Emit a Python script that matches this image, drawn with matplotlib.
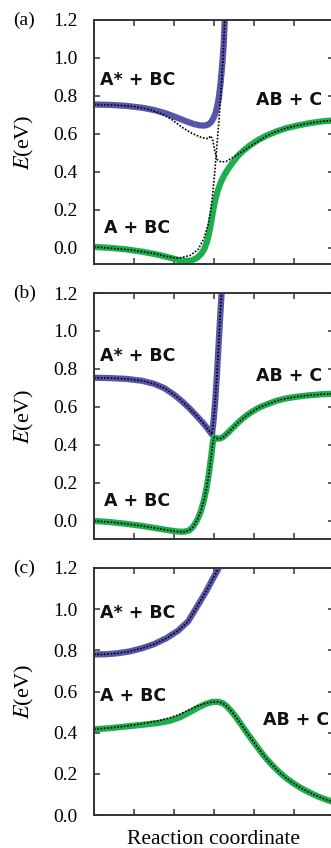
import matplotlib
matplotlib.use("Agg")
import matplotlib.pyplot as plt

plt.rcParams['mathtext.fontset'] = 'stix'
serif = 'Liberation Serif'

blue = '#5856aa'
green = '#1eae4e'

# panel (a)
blue_a_x = [0, 0.4, 0.8, 1.2, 1.5, 1.8, 2.05, 2.3, 2.5, 2.65, 2.77, 2.86, 2.93, 2.99, 3.04,
            3.08, 3.12, 3.16, 3.2, 3.24, 3.27]
blue_a_y = [0.755, 0.753, 0.748, 0.738, 0.726, 0.708, 0.688, 0.667, 0.652, 0.645, 0.644, 0.65,
            0.663, 0.685, 0.712, 0.745, 0.79, 0.86, 0.95, 1.06, 1.2]
green_a_x = [0, 0.4, 0.8, 1.2, 1.6, 1.9, 2.1, 2.3, 2.45, 2.58, 2.68, 2.76, 2.83, 2.89, 2.94,
             2.99, 3.04, 3.1, 3.17, 3.25, 3.35, 3.47, 3.6, 3.75, 3.9, 4.1, 4.3, 4.55, 4.8, 5.1,
             5.4, 5.7, 6.0]
green_a_y = [0.005, 0.0, -0.008, -0.02, -0.036, -0.052, -0.063, -0.069, -0.066, -0.052, -0.032,
             -0.005, 0.035, 0.09, 0.15, 0.21, 0.26, 0.305, 0.345, 0.38, 0.415, 0.45, 0.485,
             0.515, 0.54, 0.568, 0.59, 0.612, 0.63, 0.645, 0.657, 0.666, 0.672]
dot1_a_x = [0, 0.5, 1.0, 1.4, 1.7, 1.95, 2.2, 2.45, 2.7, 2.85, 2.92, 2.97, 3.02, 3.08, 3.18,
            3.3, 3.5, 3.8, 4.1, 4.3, 4.55, 4.8, 5.1, 5.4, 5.7, 6.0]
dot1_a_y = [0.755, 0.752, 0.744, 0.728, 0.705, 0.675, 0.635, 0.603, 0.58, 0.575, 0.59, 0.565,
            0.51, 0.465, 0.452, 0.455, 0.48, 0.52, 0.56, 0.588, 0.612, 0.63, 0.645, 0.657,
            0.666, 0.672]
dot2_a_x = [0, 0.5, 1.0, 1.5, 1.8, 2.1, 2.4, 2.6, 2.75, 2.85, 2.92, 2.97, 3.02, 3.07, 3.12,
            3.17, 3.22, 3.27]
dot2_a_y = [0.005, -0.003, -0.013, -0.03, -0.045, -0.055, -0.04, -0.01, 0.05, 0.12, 0.2, 0.29,
            0.4, 0.53, 0.66, 0.8, 0.98, 1.2]

# panel (b)
blue_b_x = [0, 0.4, 0.8, 1.2, 1.5, 1.75, 2.0, 2.2, 2.4, 2.6, 2.75, 2.88, 2.95, 2.99, 3.03,
            3.07, 3.11, 3.15, 3.19]
blue_b_y = [0.754, 0.752, 0.748, 0.738, 0.722, 0.70, 0.665, 0.63, 0.59, 0.545, 0.51, 0.475,
            0.455, 0.53, 0.63, 0.76, 0.91, 1.06, 1.2]
green_b_x = [0, 0.4, 0.8, 1.2, 1.6, 1.9, 2.1, 2.25, 2.38, 2.48, 2.58, 2.67, 2.75, 2.82, 2.88,
             2.93, 2.97, 3.0, 3.05, 3.1, 3.17, 3.25, 3.35, 3.47, 3.6, 3.75, 3.9, 4.1, 4.3,
             4.55, 4.8, 5.1, 5.4, 5.7, 6.0]
green_b_y = [0.0, -0.006, -0.015, -0.026, -0.04, -0.05, -0.056, -0.057, -0.05, -0.03, 0.005,
             0.05, 0.11, 0.18, 0.26, 0.34, 0.41, 0.44, 0.437, 0.433, 0.435, 0.445, 0.465, 0.49,
             0.517, 0.545, 0.568, 0.594, 0.612, 0.632, 0.645, 0.655, 0.662, 0.667, 0.67]

# panel (c)
blue_c_x = [0, 0.3, 0.6, 0.9, 1.2, 1.5, 1.8, 2.1, 2.35, 2.6, 2.8, 2.95, 3.05, 3.12]
blue_c_y = [0.78, 0.781, 0.786, 0.795, 0.81, 0.83, 0.858, 0.895, 0.94, 1.02, 1.085, 1.14,
            1.175, 1.2]
green_c_x = [0, 0.4, 0.8, 1.2, 1.6, 1.9, 2.15, 2.4, 2.6, 2.8, 2.95, 3.1, 3.22, 3.32, 3.43,
             3.55, 3.68, 3.82, 3.97, 4.12, 4.28, 4.45, 4.62, 4.8, 5.0, 5.2, 5.4, 5.6, 5.8, 6.0]
green_c_y = [0.416, 0.422, 0.43, 0.438, 0.447, 0.458, 0.475, 0.5, 0.522, 0.54, 0.549, 0.55,
             0.543, 0.528, 0.505, 0.475, 0.44, 0.4, 0.36, 0.32, 0.28, 0.243, 0.21, 0.18, 0.152,
             0.128, 0.108, 0.09, 0.075, 0.062]
dotg_c_y = [0.416, 0.423, 0.432, 0.443, 0.457, 0.472, 0.49, 0.513, 0.53, 0.543, 0.549, 0.55,
            0.543, 0.528, 0.505, 0.475, 0.44, 0.4, 0.36, 0.32, 0.28, 0.243, 0.21, 0.18, 0.152,
            0.128, 0.108, 0.09, 0.075, 0.062]

yticks = [0.0, 0.2, 0.4, 0.6, 0.8, 1.0, 1.2]
ytick_labels = ['0.0', '0.2', '0.4', '0.6', '0.8', '1.0', '1.2']

fig = plt.figure(figsize=(3.31, 8.48), dpi=100)

# positions from the picture (px)
boxes = [(20, 264, -0.085), (293, 539, -0.095), (568, 815, 0.0)]
axes = []
for top, bot, ymin in boxes:
    ax = fig.add_axes([94 / 331, 1 - bot / 848, 240 / 331, (bot - top) / 848])
    ax.set_xlim(0, 6)
    ax.set_ylim(ymin, 1.2)
    ax.set_xticks(range(7))
    ax.set_xticklabels([])
    ax.set_yticks(yticks)
    ax.set_yticklabels(ytick_labels, fontfamily=serif, fontsize=14)
    ax.tick_params(direction='in', top=True, right=True, length=4, width=1.1,
                   color='#333333', pad=12)
    for s in ax.spines.values():
        s.set_color('#333333')
        s.set_linewidth(1.4)
    ax.text(-0.29, 0.5, '$E$(eV)', transform=ax.transAxes, rotation=90,
            ha='center', va='center', fontsize=16, fontfamily=serif)
    axes.append(ax)

lw = 4.5
dot = dict(color='black', lw=1.2, ls=(0, (1, 1)))

ax = axes[0]
ax.plot(blue_a_x, blue_a_y, color=blue, lw=lw, solid_capstyle='butt')
ax.plot(green_a_x, green_a_y, color=green, lw=lw, solid_capstyle='butt')
ax.plot(dot1_a_x, dot1_a_y, **dot)
ax.plot(dot2_a_x, dot2_a_y, **dot)

ax = axes[1]
ax.plot(blue_b_x, blue_b_y, color=blue, lw=lw, solid_capstyle='butt')
ax.plot(green_b_x, green_b_y, color=green, lw=lw, solid_capstyle='butt')
ax.plot(blue_b_x, blue_b_y, **dot)
ax.plot(green_b_x, green_b_y, **dot)

ax = axes[2]
ax.plot(blue_c_x, blue_c_y, color=blue, lw=lw, solid_capstyle='butt')
ax.plot(green_c_x, green_c_y, color=green, lw=lw, solid_capstyle='butt')
ax.plot(blue_c_x, blue_c_y, **dot)
ax.plot(green_c_x, dotg_c_y, **dot)

lab = dict(fontsize=12.5, fontweight='bold', ha='left', va='center', color='#111111')
axes[0].text(0.15, 0.884, 'A* + BC', **lab)
axes[0].text(4.05, 0.78, 'AB + C', **lab)
axes[0].text(0.25, 0.105, 'A + BC', **lab)
axes[1].text(0.15, 0.868, 'A* + BC', **lab)
axes[1].text(4.05, 0.762, 'AB + C', **lab)
axes[1].text(0.25, 0.107, 'A + BC', **lab)
axes[2].text(0.15, 0.98, 'A* + BC', **lab)
axes[2].text(0.15, 0.578, 'A + BC', **lab)
axes[2].text(4.23, 0.46, 'AB + C', **lab)

for ax, t in zip(axes, ['(a)', '(b)', '(c)']):
    ax.text(-0.3375, 1.2, t, transform=ax.get_yaxis_transform(), ha='left', va='center',
            fontsize=14, fontfamily=serif)

fig.text(214 / 331, 1 - 840 / 848, 'Reaction coordinate', ha='center', va='center',
         fontsize=15.5, fontfamily=serif)

fig.savefig('out.png', dpi=100)
